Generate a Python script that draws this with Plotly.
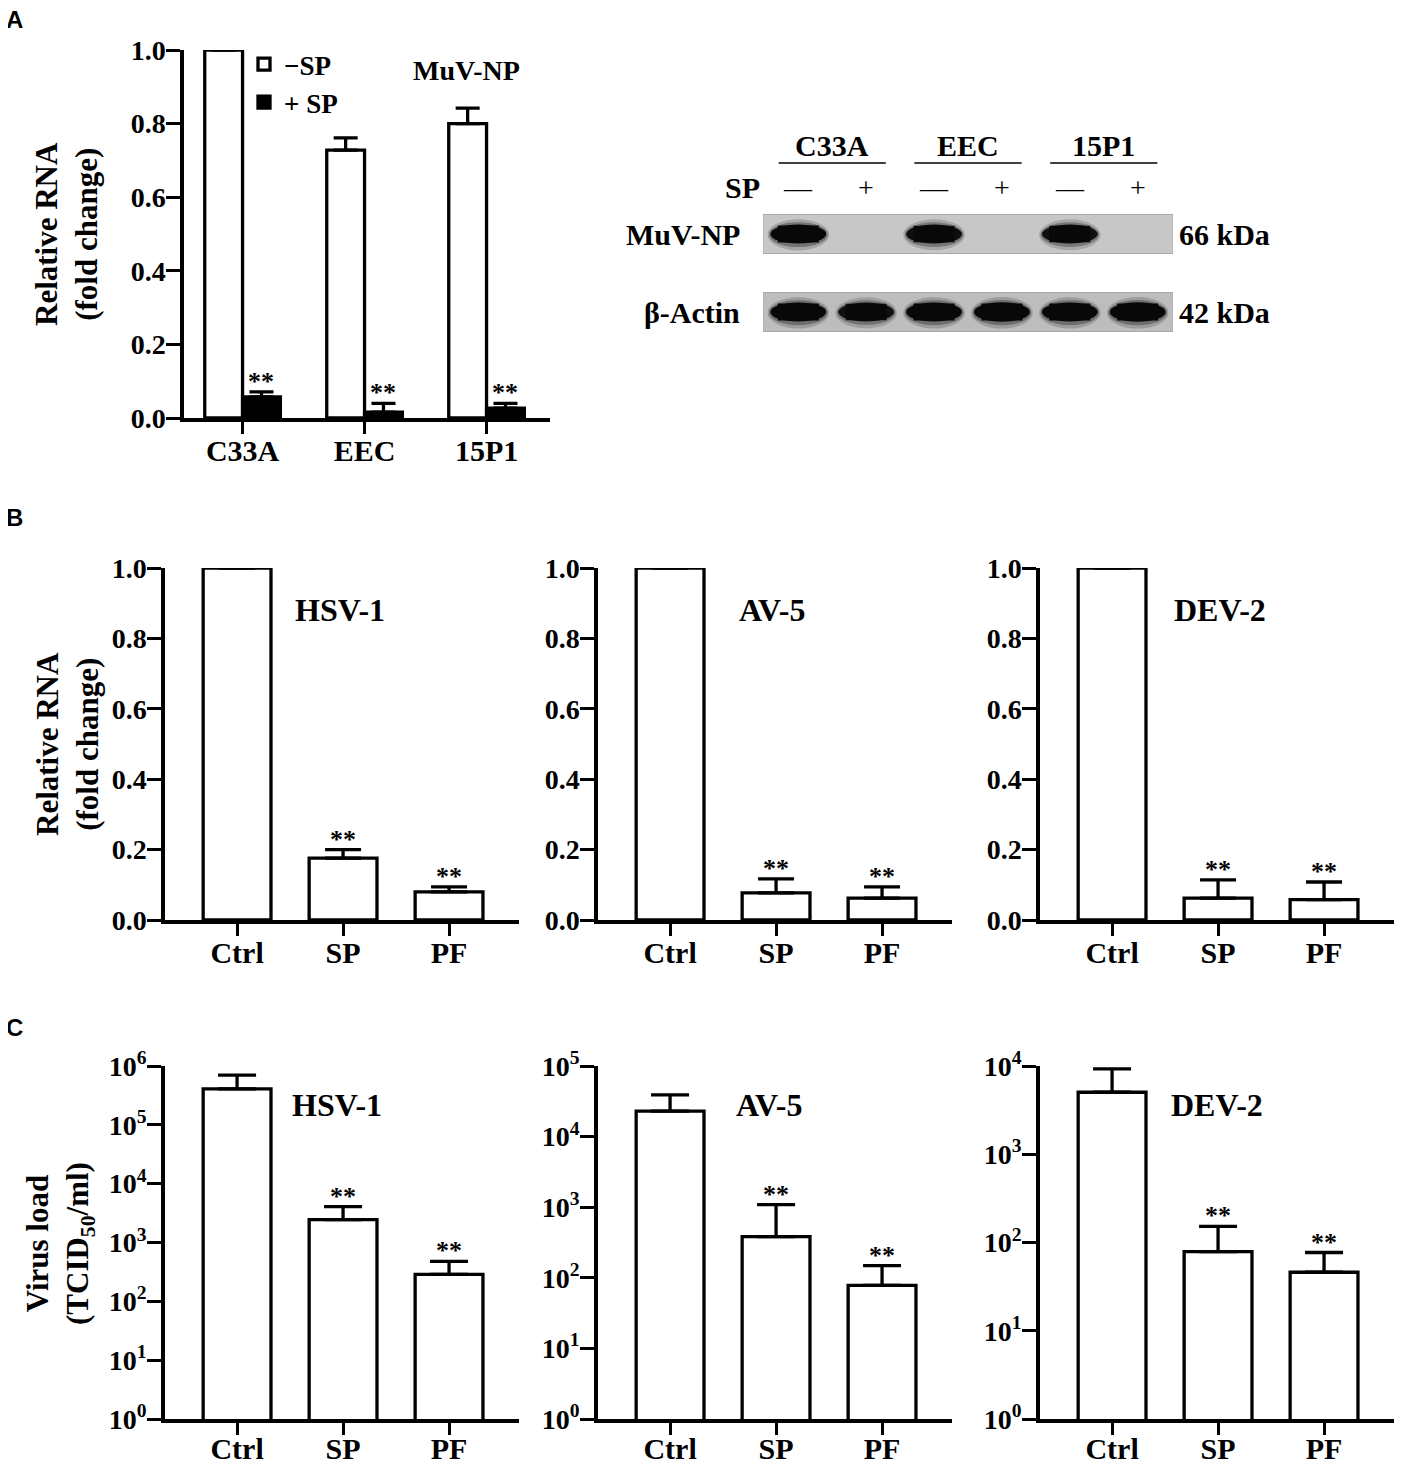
import math
import plotly.graph_objects as go

# page body has an 8px margin, so the figure is drawn 8px in from the window edge
PAGE_W, PAGE_H, OFF = 1402, 1468, 8
W, H = PAGE_W - 2 * OFF, PAGE_H - 2 * OFF
SERIF = "Liberation Serif, Times New Roman, serif"
SANS = "Liberation Sans, Arial, sans-serif"

# ---------------- data ----------------
a_cells = ["C33A", "EEC", "15P1"]
a_minus_sp = [1.0, 0.728, 0.800]
a_minus_sp_err = [0, 0.033, 0.042]
a_plus_sp = [0.057, 0.016, 0.027]
a_plus_sp_err = [0.014, 0.024, 0.013]
a_plus_sig = ["**", "**", "**"]

groups = ["Ctrl", "SP", "PF"]
group_sig = ["", "**", "**"]

b_hsv1 = [1.0, 0.176, 0.080]
b_hsv1_err = [0, 0.024, 0.014]
b_av5 = [1.0, 0.077, 0.062]
b_av5_err = [0, 0.040, 0.032]
b_dev2 = [1.0, 0.062, 0.058]
b_dev2_err = [0, 0.052, 0.050]

c_hsv1 = [4.1e5, 2450, 288]
c_hsv1_err = [2.9e5, 1620, 190]
c_av5 = [2.3e4, 383, 78]
c_av5_err = [1.6e4, 707, 71]
c_dev2 = [5040, 79, 46]
c_dev2_err = [4260, 73, 31]

virus_names = ["HSV-1", "AV-5", "DEV-2"]
c_log_max = [6, 5, 4]

blot_cells = ["C33A", "EEC", "15P1"]
blot_sp = ["—", "+", "—", "+", "—", "+"]
blot_np = [1.0, 0.0, 0.95, 0.0, 0.92, 0.0]
blot_actin = [1.0, 0.92, 1.0, 1.08, 1.0, 1.08]
blot_rows = ["MuV-NP", "β-Actin"]
blot_kda = ["66 kDa", "42 kDa"]


# ---------------- helpers (window pixels -> paper fractions) ----------------
def clamp(v):
    return max(0.0, min(1.0, v))


def px(x):
    return (x - OFF) / W


def py(y):
    return 1 - (y - OFF) / H


def xdom(a, b):
    return [clamp(px(a)), clamp(px(b))]


def ydom(top, bot):
    return [clamp(py(bot)), clamp(py(top))]


def axis_style(**kw):
    d = dict(showline=True, linecolor="black", linewidth=3.5, ticks="outside",
             tickwidth=3.2, tickcolor="black", showgrid=False,
             zeroline=False, fixedrange=True, automargin=False)
    d.update(kw)
    return d


def xstyle(standoff=-9, **kw):
    return axis_style(ticklen=12, ticklabelstandoff=standoff,
                      tickfont=dict(family=SERIF, size=30, color="black", weight="bold"),
                      **kw)


def ystyle(**kw):
    return axis_style(ticklen=14, ticklabelstandoff=-5,
                      tickfont=dict(family=SERIF, size=28, color="black", weight="bold"),
                      **kw)


def note(**kw):
    d = dict(showarrow=False, xanchor="center", yanchor="middle")
    d.update(kw)
    return d


BAR_LINE = dict(color="black", width=3.3)
STAR_FONT = dict(family=SERIF, size=26, color="black", weight="bold")

fig = go.Figure()
annotations = []
shapes = []

# ---------------- Panel A chart ----------------
fig.add_trace(go.Bar(
    x=a_cells, y=a_minus_sp, name="−SP", width=0.31, offset=-0.31,
    marker=dict(color="white", line=BAR_LINE),
    error_y=dict(type="data", array=a_minus_sp_err, arrayminus=[0] * 3,
                 symmetric=False, color="black", thickness=3.3, width=12),
    xaxis="x", yaxis="y", showlegend=True))
fig.add_trace(go.Bar(
    x=a_cells, y=a_plus_sp, name="+ SP", width=0.31, offset=0.0,
    marker=dict(color="black", line=BAR_LINE),
    error_y=dict(type="data", array=a_plus_sp_err, arrayminus=[0] * 3,
                 symmetric=False, color="black", thickness=3.3, width=12),
    xaxis="x", yaxis="y", showlegend=True))
for i, (v, e, s) in enumerate(zip(a_plus_sp, a_plus_sp_err, a_plus_sig)):
    annotations.append(note(x=i + 0.155, y=v + e, xref="x", yref="y", text=s,
                            yanchor="bottom", yshift=-6, font=STAR_FONT))

layout_axes = {}
layout_axes["xaxis"] = xstyle(domain=xdom(184, 550), anchor="y",
                              range=[-0.48, 2.52], type="category")
layout_axes["yaxis"] = ystyle(domain=ydom(50, 418), anchor="x",
                              range=[0, 1.0], dtick=0.2, tickformat=".1f")

# ---------------- Western blot ----------------
layout_axes["xaxis2"] = dict(domain=xdom(763, 1173), anchor="y2", range=[-0.52, 5.52],
                             visible=False, fixedrange=True, automargin=False)
layout_axes["yaxis2"] = dict(domain=ydom(200, 345), anchor="x2", range=[-0.423, 1.436],
                             visible=False, fixedrange=True, automargin=False)
row_y = [1, 0]
strip_fill = ["#c7c7c7", "#bdbdbd"]
for r, yy in enumerate(row_y):
    shapes.append(dict(type="rect", xref="x2", yref="y2", x0=-0.52, x1=5.52,
                       y0=yy - 0.25, y1=yy + 0.25, fillcolor=strip_fill[r],
                       line=dict(color="#a8a8a8", width=1), layer="below"))
for row, vals in zip(row_y, [blot_np, blot_actin]):
    for i, v in enumerate(vals):
        if v <= 0:
            continue
        hw = 0.42
        hh = 0.125 * (0.85 + 0.15 * v)
        op = min(1.0, v)
        # soft halo layers
        for sw, sh, a in [(1.08, 1.6, 0.22), (1.03, 1.28, 0.4)]:
            shapes.append(dict(type="circle", xref="x2", yref="y2",
                               x0=i - hw * sw, x1=i + hw * sw,
                               y0=row - hh * sh * 1.05, y1=row + hh * sh * 0.95,
                               fillcolor="#2a2a2a", opacity=a * op, line=dict(width=0)))
        # core: ellipse + rectangle -> rounded band
        shapes.append(dict(type="circle", xref="x2", yref="y2",
                           x0=i - hw * 0.98, x1=i + hw * 0.98,
                           y0=row - hh * 0.98, y1=row + hh * 0.98,
                           fillcolor="#080808", opacity=op, line=dict(width=0)))
        shapes.append(dict(type="rect", xref="x2", yref="y2",
                           x0=i - hw * 0.72, x1=i + hw * 0.72,
                           y0=row - hh * 0.86, y1=row + hh * 0.86,
                           fillcolor="#080808", opacity=op, line=dict(width=0)))
for c, name in enumerate(blot_cells):
    annotations.append(note(x=2 * c + 0.5, y=py(145), xref="x2", yref="paper", text=name,
                            font=dict(family=SERIF, size=30, color="black", weight="bold")))
    shapes.append(dict(type="line", xref="x2", yref="paper", x0=2 * c - 0.29,
                       x1=2 * c + 1.29, y0=py(163), y1=py(163),
                       line=dict(color="black", width=1.5)))
for i, s in enumerate(blot_sp):
    annotations.append(note(x=i, y=py(187), xref="x2", yref="paper", text=s,
                            font=dict(family=SERIF, size=28, color="black")))
annotations.append(note(x=px(762), y=py(187), xref="paper", yref="paper", text="SP",
                        xanchor="right",
                        font=dict(family=SERIF, size=30, color="black", weight="bold")))
for row, lab, kda in zip(row_y, blot_rows, blot_kda):
    annotations.append(note(x=px(742), y=row, xref="paper", yref="y2", text=lab,
                            xanchor="right",
                            font=dict(family=SERIF, size=30, color="black", weight="bold")))
    annotations.append(note(x=px(1177), y=row, xref="paper", yref="y2", text=kda,
                            xanchor="left",
                            font=dict(family=SERIF, size=30, color="black", weight="bold")))

# ---------------- Panels B and C ----------------
col_x = [(165, 519), (598, 952), (1040, 1394)]
title_cx = [340, 772, 1220]
b_vals = [b_hsv1, b_av5, b_dev2]
b_errs = [b_hsv1_err, b_av5_err, b_dev2_err]
c_vals = [c_hsv1, c_av5, c_dev2]
c_errs = [c_hsv1_err, c_av5_err, c_dev2_err]

for k in range(3):
    # B
    n = 3 + k
    xa, ya = f"x{n}", f"y{n}"
    fig.add_trace(go.Bar(
        x=groups, y=b_vals[k], width=0.64,
        marker=dict(color="white", line=BAR_LINE),
        error_y=dict(type="data", array=b_errs[k], arrayminus=[0] * 3, symmetric=False,
                     color="black", thickness=3.3, width=18),
        xaxis=xa, yaxis=ya, showlegend=False))
    layout_axes[f"xaxis{n}"] = xstyle(domain=xdom(*col_x[k]), anchor=ya,
                                      range=[-0.68, 2.66], type="category")
    layout_axes[f"yaxis{n}"] = ystyle(domain=ydom(568, 920), anchor=xa,
                                      range=[0, 1.0], dtick=0.2, tickformat=".1f")
    for i, (v, e, s) in enumerate(zip(b_vals[k], b_errs[k], group_sig)):
        if s:
            annotations.append(note(x=i, y=v + e, xref=xa, yref=ya, text=s,
                                    yanchor="bottom", yshift=-6, font=STAR_FONT))
    annotations.append(note(x=px(title_cx[k]), y=py(610), xref="paper", yref="paper",
                            text=virus_names[k],
                            font=dict(family=SERIF, size=32, color="black", weight="bold")))

    # C
    n = 6 + k
    xa, ya = f"x{n}", f"y{n}"
    fig.add_trace(go.Bar(
        x=groups, y=c_vals[k], width=0.64,
        marker=dict(color="white", line=BAR_LINE),
        error_y=dict(type="data", array=c_errs[k], arrayminus=[0] * 3, symmetric=False,
                     color="black", thickness=3.3, width=19),
        xaxis=xa, yaxis=ya, showlegend=False))
    tv = [10 ** p for p in range(c_log_max[k] + 1)]
    tt = [f"10<sup>{p}</sup>" for p in range(c_log_max[k] + 1)]
    layout_axes[f"xaxis{n}"] = xstyle(standoff=-12, domain=xdom(*col_x[k]), anchor=ya,
                                      range=[-0.68, 2.66], type="category")
    layout_axes[f"yaxis{n}"] = ystyle(domain=ydom(1066, 1419), anchor=xa, type="log",
                                      range=[0, c_log_max[k]], tickvals=tv, ticktext=tt)
    for i, (v, e, s) in enumerate(zip(c_vals[k], c_errs[k], group_sig)):
        if s:
            annotations.append(note(x=i, y=math.log10(v + e), xref=xa, yref=ya, text=s,
                                    yanchor="bottom", yshift=-6, font=STAR_FONT))
    annotations.append(note(x=px(title_cx[k] - 3), y=py(1105), xref="paper", yref="paper",
                            text=virus_names[k],
                            font=dict(family=SERIF, size=32, color="black", weight="bold")))

# ---------------- text ----------------
annotations.append(note(x=px(466), y=py(70), xref="paper", yref="paper", text="MuV-NP",
                        font=dict(family=SERIF, size=28, color="black", weight="bold")))
for letter, yy in [("A", 20), ("B", 517), ("C", 1027)]:
    annotations.append(note(x=px(4), y=py(yy), xref="paper", yref="paper", text=letter,
                            xanchor="left",
                            font=dict(family=SANS, size=24, color="black", weight="bold")))
for txt, cx, cy in [("Relative RNA<br>(fold change)", 67, 234),
                    ("Relative RNA<br>(fold change)", 67, 744),
                    ("Virus load<br>(TCID<sub>50</sub>/ml)", 60, 1244)]:
    annotations.append(note(x=px(cx), y=py(cy), xref="paper", yref="paper", text=txt,
                            textangle=-90,
                            font=dict(family=SERIF, size=31, color="black", weight="bold")))

fig.update_layout(
    width=W, height=H, margin=dict(l=0, r=0, t=0, b=0, autoexpand=False),
    paper_bgcolor="white", plot_bgcolor="white",
    barmode="overlay",
    font=dict(family=SERIF, color="black"),
    legend=dict(x=px(244), y=py(40), xanchor="left", yanchor="top",
                bgcolor="rgba(0,0,0,0)",
                font=dict(family=SERIF, size=27, color="black", weight="bold")),
    annotations=annotations, shapes=shapes,
    **layout_axes)

fig.write_html("out.html")
